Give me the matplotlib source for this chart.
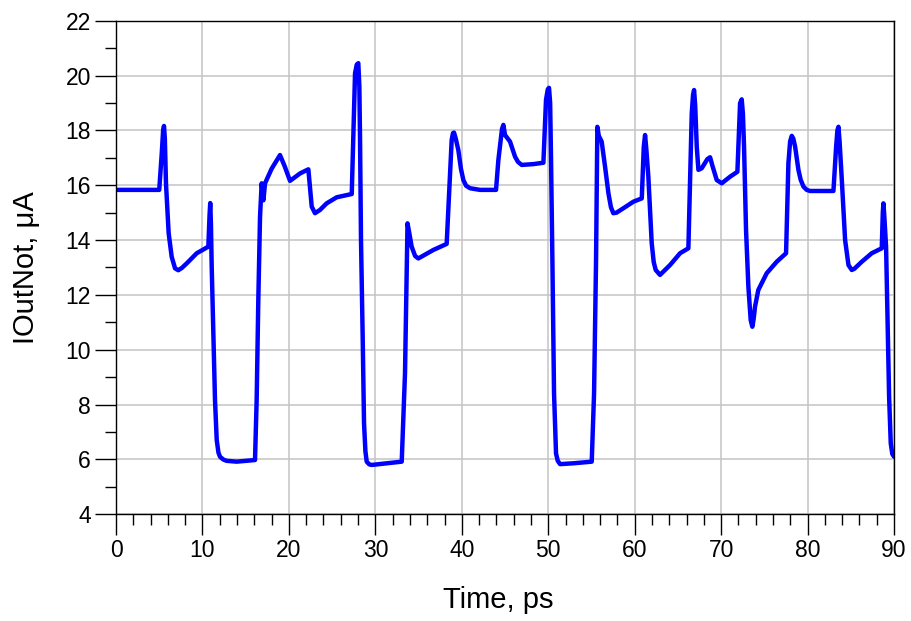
import matplotlib
matplotlib.use("Agg")
import matplotlib.pyplot as plt
from matplotlib.ticker import MultipleLocator

# Transient output current of the gate (time in ps, current in uA)
time_ps = [
    0.0, 5.0, 5.3, 5.45, 5.55, 5.65, 5.78, 6.09, 6.44, 6.83, 7.2, 7.6, 8.18, 9.34, 10.68,
    10.82, 10.9, 10.98, 11.07, 11.26, 11.45, 11.65, 11.85, 12.03, 12.4, 12.8, 13.96, 16.08,
    16.27, 16.46, 16.66, 16.85, 17.05, 17.24, 18.0, 18.97, 19.5, 20.13, 21.29, 22.25,
    22.64, 23.02, 23.6, 24.37, 25.53, 27.27,
    27.65, 27.85, 28.03, 28.15, 28.23, 28.34, 28.54, 28.69, 28.85, 29.0, 29.3, 29.58, 31.31, 33.05,
    33.43, 33.63, 33.72, 33.9, 34.2, 34.6, 34.97, 36.71, 38.25,
    38.83, 38.98, 39.1, 39.3, 39.6, 39.9, 40.18, 40.5, 40.96, 42.11, 43.96,
    44.23, 44.65, 44.81, 45.0, 45.58, 46.16, 46.5, 46.93, 48.28, 49.44,
    49.74, 49.95, 50.09, 50.22, 50.32, 50.48, 50.67, 50.9, 51.1, 51.37, 52.9, 55.03,
    55.3, 55.53, 55.68, 55.85, 56.18, 56.57, 56.96, 57.25, 57.53, 57.9, 58.69, 59.85, 60.82,
    61.05, 61.2, 61.35, 61.58, 61.97, 62.2, 62.43, 62.93, 64.09, 65.25, 66.21,
    66.6, 66.75, 66.87, 67.0, 67.18, 67.37, 67.76, 68.4, 68.72, 69.0, 69.49, 70.07, 71.03, 71.88,
    72.19, 72.38, 72.52, 72.65, 72.88, 73.15, 73.42, 73.61, 73.75, 73.92, 74.3, 75.27, 76.43, 77.51,
    77.78, 77.98, 78.17, 78.35, 78.56, 78.94, 79.2, 79.52, 79.9, 80.3, 82.99,
    83.3, 83.45, 83.57, 83.7, 83.96, 84.34, 84.73, 85.11, 85.4, 86.27, 87.42, 88.58,
    88.7, 88.77, 88.85, 89.08, 89.23, 89.43, 89.62, 89.8, 90.0,
]
iout_ua = [
    15.83, 15.83, 17.2, 18.0, 18.16, 17.7, 16.07, 14.25, 13.39, 12.97, 12.9, 12.98, 13.15, 13.52, 13.76,
    14.9, 15.35, 14.6, 13.03, 10.6, 8.17, 6.71, 6.25, 6.1, 6.0, 5.95, 5.92, 5.98,
    8.17, 11.8, 14.85, 16.07, 15.45, 16.07, 16.6, 17.1, 16.7, 16.16, 16.43, 16.58,
    15.22, 14.98, 15.1, 15.34, 15.56, 15.68,
    20.08, 20.4, 20.45, 19.6, 17.65, 14.0, 10.36, 7.32, 6.3, 5.92, 5.82, 5.8, 5.86, 5.92,
    9.14, 12.79, 14.61, 14.3, 13.76, 13.42, 13.33, 13.64, 13.86,
    17.65, 17.9, 17.92, 17.7, 17.28, 16.6, 16.19, 15.98, 15.89, 15.83, 15.83,
    16.92, 18.05, 18.2, 17.83, 17.59, 17.04, 16.85, 16.74, 16.77, 16.82,
    19.11, 19.5, 19.55, 19.0, 17.0, 13.27, 8.41, 6.22, 5.95, 5.83, 5.86, 5.92,
    8.41, 13.27, 18.13, 17.8, 17.59, 16.68, 15.71, 15.2, 14.98, 15.0, 15.16, 15.4, 15.52,
    17.4, 17.83, 17.3, 16.31, 13.88, 13.2, 12.91, 12.73, 13.09, 13.52, 13.7,
    18.62, 19.3, 19.47, 18.9, 17.4, 16.56, 16.62, 16.95, 17.02, 16.7, 16.19, 16.07, 16.31, 16.49,
    18.99, 19.13, 18.6, 17.4, 14.37, 12.3, 11.08, 10.84, 11.1, 11.57, 12.18, 12.79, 13.21, 13.52,
    16.8, 17.6, 17.8, 17.7, 17.4, 16.56, 16.2, 15.95, 15.83, 15.79, 15.79,
    17.4, 18.0, 18.13, 17.6, 16.19, 14.0, 13.09, 12.91, 12.95, 13.21, 13.52, 13.7,
    15.0, 15.34, 15.0, 13.76, 11.33, 8.29, 6.59, 6.2, 6.1,
]

x_range = (0, 90)
y_range = (4, 22)

plt.rcParams["font.family"] = ["Liberation Sans", "DejaVu Sans"]

fig = plt.figure(figsize=(9.12, 6.21), dpi=100)
ax = fig.add_axes([0.1272, 0.1718, 0.8531, 0.7949])

ax.plot(time_ps, iout_ua, color="#0000ff", linewidth=3.2,
        solid_joinstyle="round", solid_capstyle="round", clip_on=True)

ax.set_xlim(*x_range)
ax.set_ylim(*y_range)

ax.xaxis.set_major_locator(MultipleLocator(10))
ax.xaxis.set_minor_locator(MultipleLocator(2))
ax.yaxis.set_major_locator(MultipleLocator(2))
ax.yaxis.set_minor_locator(MultipleLocator(1))

ax.grid(True, which="major", color="#c4c4c4", linewidth=1.1)
ax.set_axisbelow(True)

ax.tick_params(which="major", direction="out", length=15, width=1.0,
               labelsize=16.5, pad=3, colors="black")
ax.tick_params(which="minor", direction="out", length=8, width=1.0)

for side in ax.spines.values():
    side.set_linewidth(1.0)
    side.set_color("black")

ax.set_xlabel("Time, ps", fontsize=21)
ax.set_ylabel("IOutNot, μA", fontsize=21)
ax.xaxis.set_label_coords(0.491, -0.145)
ax.yaxis.set_label_coords(-0.098, 0.5)

fig.savefig("out.png", dpi=100)
